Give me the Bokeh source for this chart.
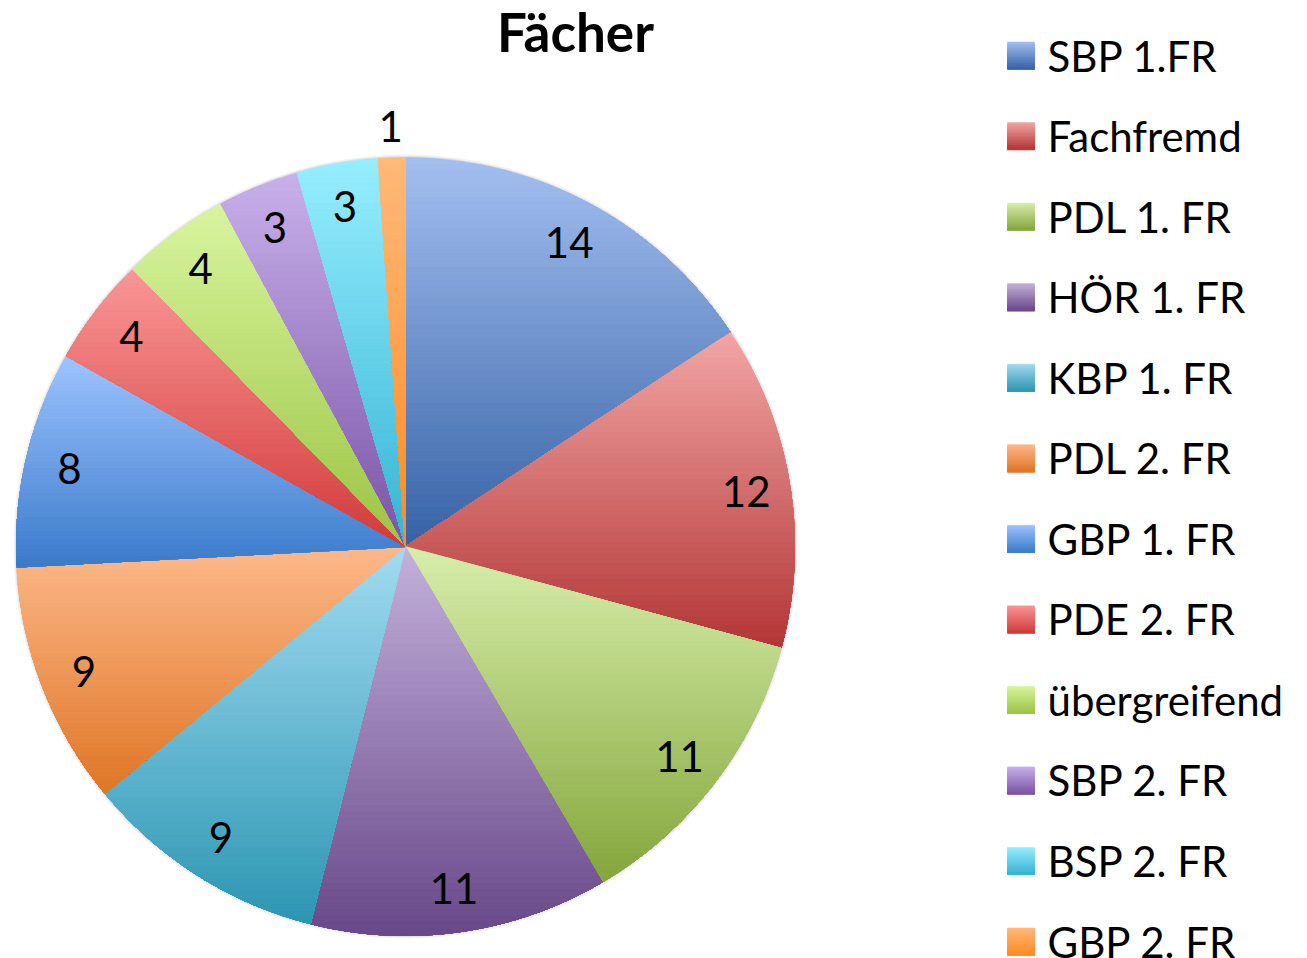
import numpy as np
from bokeh.plotting import figure
from bokeh.models import Range1d, ColumnDataSource
from bokeh.embed import file_html
from bokeh.resources import INLINE
from bokeh.core.properties import value

# ---------------- data ----------------
title = "Fächer"
categories = ["SBP 1.FR", "Fachfremd", "PDL 1. FR", "HÖR 1. FR", "KBP 1. FR",
              "PDL 2. FR", "GBP 1. FR", "PDE 2. FR", "übergreifend",
              "SBP 2. FR", "BSP 2. FR", "GBP 2. FR"]
counts = [14, 12, 11, 11, 9, 9, 8, 4, 4, 3, 3, 1]
colors_light = ["#a4bff0", "#f2a6a5", "#d8eeab", "#c3b1db", "#a2dbf1", "#fdb98b",
                "#9ec4ff", "#fa9797", "#d9f59f", "#c8b1eb", "#96eeff", "#ffb97a"]
colors_dark = ["#3663a6", "#b33636", "#84a63c", "#684889", "#2c96b2", "#df7626",
               "#3a7bca", "#d23a3a", "#9bc443", "#7a54a6", "#36b4d4", "#ff8b22"]

# ---------------- layout ----------------
W, H = 1307, 958
CX, CY, R = 405.0, 546.0, 389.0
FONT = "Lato"

p = figure(width=W, height=H, x_range=Range1d(0, W), y_range=Range1d(H, 0),
           output_backend="svg", toolbar_location=None, min_border=0,
           x_axis_location=None, y_axis_location=None)
p.grid.visible = False
p.outline_line_color = None
p.background_fill_color = "white"
p.border_fill_color = "white"


def hex2rgb(h):
    h = h.lstrip("#")
    return np.array([int(h[i:i + 2], 16) for i in (0, 2, 4)], dtype=float)


def mix(c1, c2, t):
    a, b = hex2rgb(c1), hex2rgb(c2)
    c = a + (b - a) * t
    return "#%02x%02x%02x" % tuple(int(round(v)) for v in c)


def clip_below(poly, y0):
    """keep the part of polygon with y >= y0 (screen y points down)"""
    out = []
    n = len(poly)
    for i in range(n):
        x1, y1 = poly[i]
        x2, y2 = poly[(i + 1) % n]
        in1, in2 = y1 >= y0, y2 >= y0
        if in1:
            out.append((x1, y1))
        if in1 != in2:
            t = (y0 - y1) / (y2 - y1)
            out.append((x1 + (x2 - x1) * t, y0))
    return out


def gradient_bands(poly, light, dark, nb, xs, ys, cs):
    yv = [pt[1] for pt in poly]
    ymin, ymax = min(yv), max(yv)
    for k in range(nb):
        y0 = ymin + k * (ymax - ymin) / nb
        sub = clip_below(poly, y0) if k > 0 else poly
        if len(sub) < 3:
            continue
        xs.append([pt[0] for pt in sub])
        ys.append([pt[1] for pt in sub])
        cs.append(mix(light, dark, (k + 0.5) / nb))


# soft shadow around the pie
p.circle(x=[CX], y=[CY], radius=R + 3, fill_color="black", fill_alpha=0.05, line_color=None)
p.circle(x=[CX], y=[CY], radius=R + 1.5, fill_color="black", fill_alpha=0.08, line_color=None)

total = float(sum(counts))
cum = np.concatenate([[0], np.cumsum(counts)]) / total * 360.0

xs, ys, cs = [], [], []
lab_x, lab_y, lab_t = [], [], []
for i, v in enumerate(counts):
    a0, a1 = cum[i], cum[i + 1]
    n = max(4, int((a1 - a0) * 2))
    ang = np.radians(np.linspace(a0, a1, n))
    poly = [(CX, CY)] + [(CX + R * np.sin(a), CY - R * np.cos(a)) for a in ang]
    gradient_bands(poly, colors_light[i], colors_dark[i], 60, xs, ys, cs)
    mid = np.radians((a0 + a1) / 2)
    rl = R * 0.887 if v / total > 0.02 else R * 1.08
    lab_x.append(CX + rl * np.sin(mid))
    lab_y.append(CY - rl * np.cos(mid))
    lab_t.append(str(v))

p.patches(xs="xs", ys="ys", fill_color="c", line_color="c", line_width=0.6,
          source=ColumnDataSource(dict(xs=xs, ys=ys, c=cs)))

p.text(x=lab_x, y=lab_y, text=lab_t, text_font=value(FONT), text_font_size="42px",
       text_color="black", text_align="center", text_baseline="middle")

# title
p.text(x=[575], y=[31], text=[title], text_font=value(FONT), text_font_size="53px",
       text_font_style="bold", text_color="black", text_align="center",
       text_baseline="middle")

# legend
lx0, lsz, ly0, ldy = 1007.0, 27.0, 55.0, 80.55
lxs, lys, lcs = [], [], []
leg_x, leg_y = [], []
for i, name in enumerate(categories):
    yc = ly0 + i * ldy
    sq = [(lx0, yc - lsz / 2), (lx0 + lsz, yc - lsz / 2), (lx0 + lsz, yc + lsz / 2), (lx0, yc + lsz / 2)]
    gradient_bands(sq, colors_light[i], colors_dark[i], 14, lxs, lys, lcs)
    leg_x.append(1047)
    leg_y.append(yc)

p.patches(xs="xs", ys="ys", fill_color="c", line_color="c", line_width=0.6,
          source=ColumnDataSource(dict(xs=lxs, ys=lys, c=lcs)))
p.text(x=leg_x, y=leg_y, text=categories, text_font=value(FONT), text_font_size="42px",
       text_color="black", text_align="left", text_baseline="middle")

open("out.html", "w").write(file_html(p, INLINE))
